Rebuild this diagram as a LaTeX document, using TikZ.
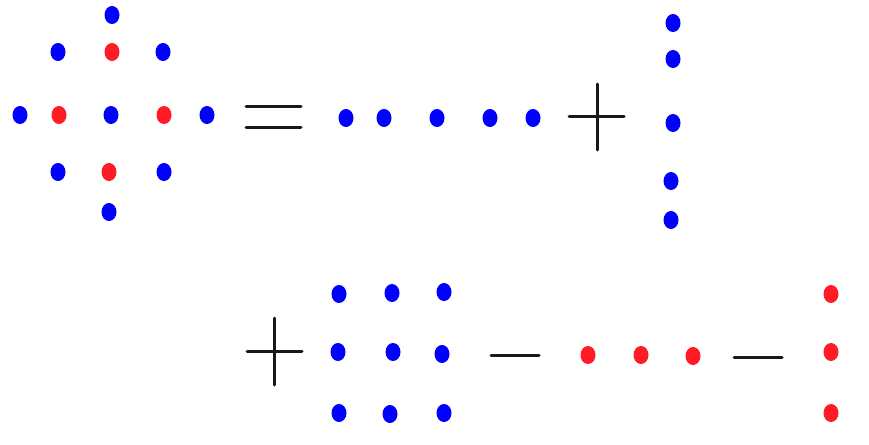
\documentclass[tikz,border=0pt]{standalone}
\usetikzlibrary{shapes.geometric}
\definecolor{dotblue}{RGB}{0,0,255}
\definecolor{dotred}{RGB}{255,28,36}
\tikzset{
  dotb/.style={ellipse,fill=dotblue,draw=none,minimum width=15pt,minimum height=18pt,inner sep=0pt},
  dotr/.style={ellipse,fill=dotred,draw=none,minimum width=15pt,minimum height=18pt,inner sep=0pt},
  opline/.style={line width=3pt,line cap=round,black!90}
}
\begin{document}
\begin{tikzpicture}[x=1pt,y=-1pt]
\useasboundingbox (0,0) rectangle (869,444);
% cross figure
\node[dotb] (c1) at (112,15) {};
\node[dotb] (c2) at (58,52) {};
\node[dotr] (c3) at (112,52) {};
\node[dotb] (c4) at (163,52) {};
\node[dotb] (c5) at (20,115) {};
\node[dotr] (c6) at (59,115) {};
\node[dotb] (c7) at (111,115) {};
\node[dotr] (c8) at (164,115) {};
\node[dotb] (c9) at (207,115) {};
\node[dotb] (c10) at (58,172) {};
\node[dotr] (c11) at (109,172) {};
\node[dotb] (c12) at (164,172) {};
\node[dotb] (c13) at (109,212) {};
% equals
\coordinate (e1) at (246,106); \coordinate (e2) at (301,106);
\coordinate (e3) at (246,127); \coordinate (e4) at (301,127);
\draw[opline] (e1) -- (e2);
\draw[opline] (e3) -- (e4);
% horizontal row
\node[dotb] (h1) at (346,118) {};
\node[dotb] (h2) at (384,118) {};
\node[dotb] (h3) at (437,118) {};
\node[dotb] (h4) at (490,118) {};
\node[dotb] (h5) at (533,118) {};
% plus 1
\coordinate (p1a) at (569,116); \coordinate (p1b) at (624,116);
\coordinate (p1c) at (597,84); \coordinate (p1d) at (597,150);
\draw[opline] (p1a) -- (p1b);
\draw[opline] (p1c) -- (p1d);
% vertical column
\node[dotb] (v1) at (673,23) {};
\node[dotb] (v2) at (673,59) {};
\node[dotb] (v3) at (673,123) {};
\node[dotb] (v4) at (671,181) {};
\node[dotb] (v5) at (671,220) {};
% plus 2
\coordinate (p2a) at (247,351); \coordinate (p2b) at (302,351);
\coordinate (p2c) at (274,318); \coordinate (p2d) at (274,385);
\draw[opline] (p2a) -- (p2b);
\draw[opline] (p2c) -- (p2d);
% grid
\node[dotb] (g11) at (339,294) {};
\node[dotb] (g12) at (392,293) {};
\node[dotb] (g13) at (444,292) {};
\node[dotb] (g21) at (338,352) {};
\node[dotb] (g22) at (393,352) {};
\node[dotb] (g23) at (442,354) {};
\node[dotb] (g31) at (339,413) {};
\node[dotb] (g32) at (390,414) {};
\node[dotb] (g33) at (444,413) {};
% minus 1
\coordinate (m1a) at (491,355); \coordinate (m1b) at (539,355);
\draw[opline] (m1a) -- (m1b);
% red row
\node[dotr] (r1) at (588,355) {};
\node[dotr] (r2) at (641,355) {};
\node[dotr] (r3) at (693,356) {};
% minus 2
\coordinate (m2a) at (734,357); \coordinate (m2b) at (782,357);
\draw[opline] (m2a) -- (m2b);
% red column
\node[dotr] (s1) at (831,294) {};
\node[dotr] (s2) at (831,352) {};
\node[dotr] (s3) at (831,413) {};
\end{tikzpicture}
\end{document}
